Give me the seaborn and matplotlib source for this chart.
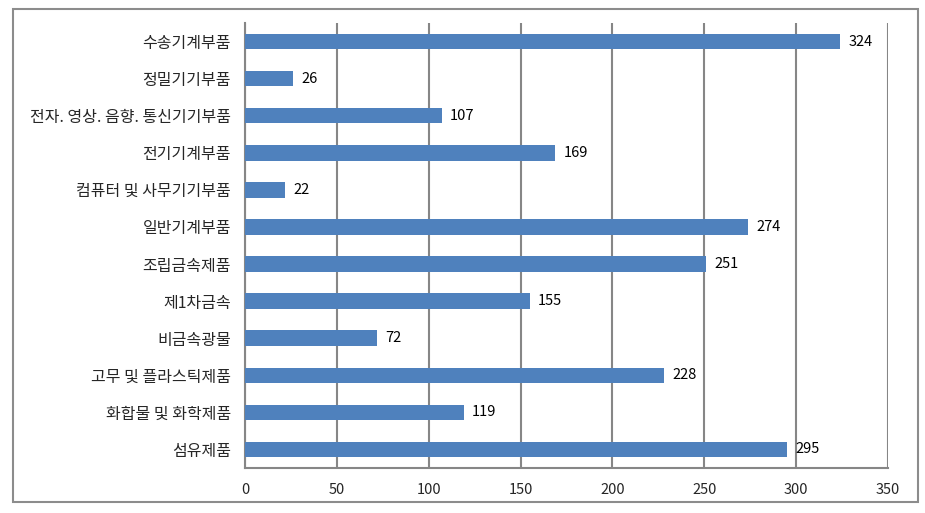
import matplotlib
matplotlib.use("Agg")
import matplotlib.pyplot as plt
import seaborn as sns
import pandas as pd
import numpy as np
from matplotlib.patches import Rectangle

categories = ["수송기계부품", "정밀기기부품", "전자. 영상. 음향. 통신기기부품", "전기기계부품",
              "컴퓨터 및 사무기기부품", "일반기계부품", "조립금속제품", "제1차금속",
              "비금속광물", "고무 및 플라스틱제품", "화합물 및 화학제품", "섬유제품"]
values = [324, 26, 107, 169, 22, 274, 251, 155, 72, 228, 119, 295]
xticks = [0, 50, 100, 150, 200, 250, 300, 350]

sns.set_theme(style="white")
plt.rcParams['font.family'] = ['Noto Sans CJK KR', 'DejaVu Sans']

df = pd.DataFrame({"cat": categories, "val": values})

fig = plt.figure(figsize=(9.25, 5.13), dpi=100)
ax = fig.add_axes([245/925, 1-468/513, (888-245)/925, (468-23)/513])
sns.barplot(data=df, x="val", y="cat", orient="h", color="#4F81BD", width=0.42,
            saturation=1, ax=ax, zorder=3, linewidth=0, edgecolor="none")

ax.set_xlim(0, 350)
ax.set_xticks(xticks)
ax.set_xticklabels([str(t) for t in xticks], fontsize=10.5)
ax.set_xlabel("")
ax.set_ylabel("")
ax.set_ylim(len(categories)-0.5, -0.5)
ax.tick_params(axis='y', which='major', length=0, labelsize=11.5, pad=10)
ax.set_yticks(np.arange(-0.5, len(categories)), minor=True)
ax.tick_params(axis='y', which='minor', length=5, width=1.5, color="#868686", direction='out')
ax.tick_params(axis='x', which='major', length=5, width=1.5, color="#868686", direction='out', pad=6)
ax.grid(axis='x', color="#868686", linewidth=1.5, zorder=0)
ax.set_axisbelow(True)
for s in ["top", "right"]:
    ax.spines[s].set_visible(False)
for s in ["left", "bottom"]:
    ax.spines[s].set_color("#868686")
    ax.spines[s].set_linewidth(1.5)

for i, v in enumerate(values):
    ax.annotate(str(v), (v, i), xytext=(6, 0), textcoords="offset points",
                va="center", ha="left", fontsize=10.5, color="black")

fig.patches.append(Rectangle((13/925, 1-502/513), (918-13)/925, (502-9)/513,
                             transform=fig.transFigure, fill=False,
                             edgecolor="#8c8c8c", linewidth=1.5))
fig.savefig("out.png", dpi=100)
